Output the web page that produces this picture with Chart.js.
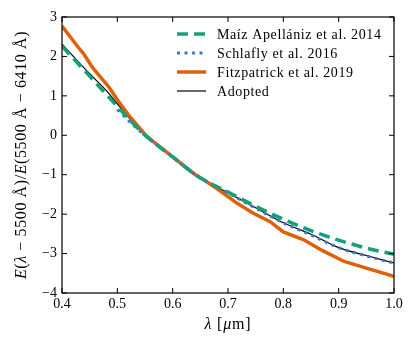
<!DOCTYPE html>
<html>
<head>
<meta charset="utf-8">
<script src="https://cdn.jsdelivr.net/npm/chart.js@4.4.1/dist/chart.umd.min.js"></script>
<style>
  html, body { margin: 0; padding: 0; background: #fff; }
  #wrap { width: 415px; height: 347px; }
</style>
</head>
<body>
<div id="wrap"><canvas id="extChart" width="415" height="347"></canvas></div>
<script>
// Values
const maizX = [0.40, 0.45, 0.50, 0.55, 0.60, 0.641, 0.70, 0.75, 0.80, 0.85, 0.90, 0.95, 1.00];
const maizY = [2.26, 1.50, 0.73, 0.00, -0.55, -1.00, -1.44, -1.80, -2.13, -2.42, -2.66, -2.86, -3.02];

const schlaflyX = [0.50, 0.525, 0.55, 0.60, 0.641, 0.70, 0.75, 0.80, 0.85, 0.90, 0.95, 1.00];
const schlaflyY = [0.65, 0.31, 0.00, -0.55, -1.00, -1.46, -1.85, -2.22, -2.53, -2.85, -3.06, -3.24];

const fitzX = [0.40, 0.43, 0.44, 0.455, 0.465, 0.485, 0.50, 0.52, 0.55, 0.565, 0.60, 0.641, 0.656, 0.68, 0.716, 0.745, 0.776, 0.80, 0.837, 0.87, 0.91, 0.95, 1.00];
const fitzY = [2.77, 2.22, 2.05, 1.72, 1.55, 1.22, 0.90, 0.52, 0.02, -0.16, -0.55, -1.00, -1.13, -1.35, -1.72, -1.97, -2.19, -2.45, -2.65, -2.92, -3.20, -3.37, -3.58];

const adoptedX = [0.40, 0.45, 0.483, 0.50, 0.55, 0.60, 0.641, 0.70, 0.75, 0.80, 0.85, 0.90, 0.95, 1.00];
const adoptedY = [2.31, 1.56, 1.09, 0.80, 0.00, -0.55, -1.00, -1.46, -1.84, -2.22, -2.51, -2.85, -3.05, -3.24];

const xTicks = [0.4, 0.5, 0.6, 0.7, 0.8, 0.9, 1.0];
const yTicks = [-4, -3, -2, -1, 0, 1, 2, 3];

const FONT = "'Liberation Serif', 'DejaVu Serif', serif";

function toPoints(xs, ys) {
    return xs.map((x, i) => ({ x: x, y: ys[i] }));
}

// draw a line of text whose pieces are italic or upright, centred on (cx, cy)
function drawRich(ctx, parts, cx, cy, size, angle, spacing) {
    ctx.save();
    ctx.translate(cx, cy);
    ctx.rotate(angle);
    ctx.letterSpacing = spacing + 'px';
    let total = 0;
    parts.forEach(p => {
        ctx.font = (p[1] ? 'italic ' : '') + size + 'px ' + FONT;
        total += ctx.measureText(p[0]).width;
    });
    let x = -total / 2;
    ctx.textBaseline = 'middle';
    ctx.textAlign = 'left';
    ctx.fillStyle = '#000';
    parts.forEach(p => {
        ctx.font = (p[1] ? 'italic ' : '') + size + 'px ' + FONT;
        ctx.fillText(p[0], x, 0);
        x += ctx.measureText(p[0]).width;
    });
    ctx.restore();
}

const framePlugin = {
    id: 'frame',
    afterDraw(chart) {
        const ctx = chart.ctx;
        const a = chart.chartArea;
        const xs = chart.scales.x, ys = chart.scales.y;
        const tick = 5;

        ctx.save();
        ctx.strokeStyle = '#000';
        ctx.lineWidth = 1.2;
        ctx.strokeRect(a.left, a.top, a.right - a.left, a.bottom - a.top);

        ctx.lineWidth = 1;
        ctx.beginPath();
        xTicks.forEach(v => {
            const px = xs.getPixelForValue(v);
            ctx.moveTo(px, a.bottom); ctx.lineTo(px, a.bottom - tick);
            ctx.moveTo(px, a.top); ctx.lineTo(px, a.top + tick);
        });
        yTicks.forEach(v => {
            const py = ys.getPixelForValue(v);
            ctx.moveTo(a.left, py); ctx.lineTo(a.left + tick, py);
            ctx.moveTo(a.right, py); ctx.lineTo(a.right - tick, py);
        });
        ctx.stroke();

        // legend inside the plot, top right
        const lx = 177, tx = 217;
        let ly = 34;
        chart.data.datasets.forEach(ds => {
            ctx.beginPath();
            ctx.strokeStyle = ds.borderColor;
            ctx.lineWidth = ds.borderWidth;
            ctx.setLineDash(ds.borderDash || []);
            ctx.moveTo(lx, ly);
            ctx.lineTo(lx + 29, ly);
            ctx.stroke();
            ctx.setLineDash([]);
            ctx.fillStyle = '#000';
            ctx.font = '14px ' + FONT;
            ctx.letterSpacing = '0.6px';
            ctx.textBaseline = 'middle';
            ctx.textAlign = 'left';
            ctx.fillText(ds.label, tx, ly + 1);
            ly += 19;
        });
        ctx.restore();

        // axis titles
        drawRich(ctx, [['λ', true], [' [', false], ['μ', true], ['m]', false]],
            (a.left + a.right) / 2, 325, 16, 0, 0.8);
        drawRich(ctx, [['E', true], ['(', false], ['λ', true], [' − 5500 Å)/', false],
            ['E', true], ['(5500 Å − 6410 Å)', false]],
            22, (a.top + a.bottom) / 2, 16, -Math.PI / 2, 0.6);
    }
};

const chart = new Chart(document.getElementById('extChart'), {
    type: 'line',
    data: {
        datasets: [
            {
                label: 'Maíz Apellániz et al. 2014',
                data: toPoints(maizX, maizY),
                borderColor: '#16a07a',
                borderWidth: 3.5,
                borderDash: [11, 6],
                cubicInterpolationMode: 'monotone',
                pointRadius: 0
            },
            {
                label: 'Schlafly et al. 2016',
                data: toPoints(schlaflyX, schlaflyY),
                borderColor: '#4275c4',
                borderWidth: 3,
                borderDash: [3, 4.5],
                cubicInterpolationMode: 'monotone',
                pointRadius: 0
            },
            {
                label: 'Fitzpatrick et al. 2019',
                data: toPoints(fitzX, fitzY),
                borderColor: '#de6008',
                borderWidth: 3.5,
                tension: 0,
                pointRadius: 0
            },
            {
                label: 'Adopted',
                data: toPoints(adoptedX, adoptedY),
                borderColor: '#000000',
                borderWidth: 1.2,
                cubicInterpolationMode: 'monotone',
                pointRadius: 0
            }
        ]
    },
    options: {
        responsive: false,
        animation: false,
        events: [],
        layout: { padding: { left: 0, right: 21, top: 17, bottom: 0 } },
        plugins: {
            legend: { display: false },
            tooltip: { enabled: false }
        },
        scales: {
            x: {
                type: 'linear',
                min: 0.4,
                max: 1.0,
                afterFit: s => { s.height = 54; },
                afterBuildTicks: s => { s.ticks = xTicks.map(v => ({ value: v })); },
                grid: { display: false, drawTicks: false },
                border: { display: false },
                ticks: {
                    color: '#000',
                    font: { family: FONT, size: 14 },
                    padding: 3,
                    maxRotation: 0,
                    callback: v => v.toFixed(1)
                }
            },
            y: {
                min: -4,
                max: 3,
                afterFit: s => { s.width = 62; },
                afterBuildTicks: s => { s.ticks = yTicks.map(v => ({ value: v })); },
                grid: { display: false, drawTicks: false },
                border: { display: false },
                ticks: {
                    color: '#000',
                    font: { family: FONT, size: 14 },
                    padding: 5,
                    callback: v => (v < 0 ? '−' : '') + Math.abs(v)
                }
            }
        }
    },
    plugins: [framePlugin]
});
</script>
</body>
</html>
